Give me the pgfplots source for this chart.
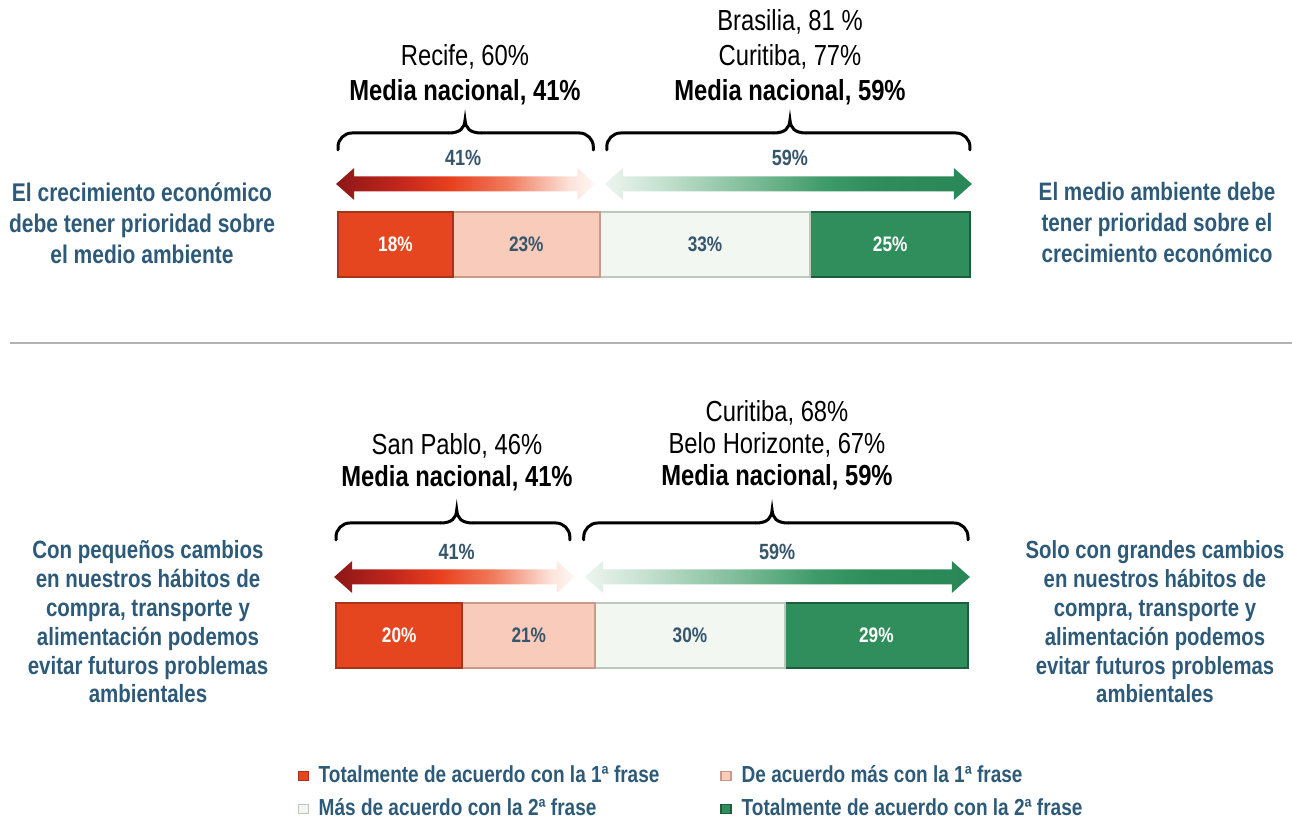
\documentclass[border=0pt]{standalone}
\usepackage{pgfplots}
\pgfplotsset{compat=1.18}
\usetikzlibrary{calc}
\usepackage{fontspec}
\setmainfont{Liberation Sans}[FakeStretch=0.82]
\definecolor{cRed}{HTML}{E5461F}
\definecolor{cRedD}{HTML}{A8321A}
\definecolor{cPink}{HTML}{F8CBBB}
\definecolor{cPinkD}{HTML}{C99A8A}
\definecolor{cWhite}{HTML}{F2F7F2}
\definecolor{cWhiteD}{HTML}{BCC8BE}
\definecolor{cGreen}{HTML}{2F8E5C}
\definecolor{cGreenD}{HTML}{1B5E3B}
\definecolor{txtBlue}{HTML}{2D5A78}
\definecolor{lblBlue}{HTML}{36566C}
\definecolor{ra}{HTML}{8C1717}
\definecolor{rb}{HTML}{C2261C}
\definecolor{rc}{HTML}{E8401E}
\definecolor{rd}{HTML}{F07A5C}
\definecolor{re}{HTML}{FBE3DA}
\definecolor{rf}{HTML}{FFF7F4}
\definecolor{ga}{HTML}{EDF5F0}
\definecolor{gb}{HTML}{C4E0CF}
\definecolor{gc}{HTML}{7DBC98}
\definecolor{gd}{HTML}{3E9A6A}
\definecolor{ge}{HTML}{2E8D5B}
\definecolor{gf}{HTML}{2A8757}
\pgfdeclarehorizontalshading{redarrow}{100bp}{color(0bp)=(ra); color(25bp)=(ra); color(37bp)=(rb); color(47bp)=(rc); color(58bp)=(rd); color(70bp)=(re); color(75bp)=(rf); color(100bp)=(rf)}
\pgfdeclarehorizontalshading{greenarrow}{100bp}{color(0bp)=(ga); color(25bp)=(ga); color(33bp)=(gb); color(45bp)=(gc); color(55bp)=(gd); color(62bp)=(ge); color(75bp)=(gf); color(100bp)=(gf)}
\pgfplotsset{
  barax/.style={hide axis, scale only axis, width=316pt, height=57pt,
    ymin=0, ymax=114, enlargelimits=false, clip=false,
    xbar stacked, bar width=32.5pt, anchor=origin},
  sqlegend/.style={legend image code/.code={\draw[##1,line width=0.6pt] (0pt,-2.2pt) rectangle (5pt,2.2pt);}}
}
\tikzset{
  bl/.style={text=white, font=\bfseries\fontsize{10.5}{12}\selectfont},
  bd/.style={text=lblBlue, font=\bfseries\fontsize{10.5}{12}\selectfont},
  al/.style={text=lblBlue, font=\bfseries\fontsize{11}{12}\selectfont},
  br/.style={line width=1.5pt, line cap=round}
}
% double-headed arrow between two tip coordinates (units: px)
\newcommand{\dblarrow}[3]{%
 \shade[shading=#1] (#2) -- ++(18,16) -- ++(0,-8.5) -- ($(#3)+(-18,7.5)$) -- ++(0,8.5) -- (#3) -- ++(-18,-16) -- ++(0,8.5) -- ($(#2)+(18,-7.5)$) -- ++(0,-8.5) -- cycle;}
\begin{document}
\begin{tikzpicture}[x=0.5pt,y=0.5pt]
\useasboundingbox (0,0) rectangle (1292,818);
% ---------------- top chart ----------------
\begin{axis}[barax, at={(169pt,270.5pt)}, xmin=0, xmax=99]
\addplot[fill=cRed, draw=cRedD, line width=1pt] coordinates {(18,32.5)};
\addplot[fill=cPink, draw=cPinkD, line width=1pt] coordinates {(23,32.5)};
\addplot[fill=cWhite, draw=cWhiteD, line width=1pt] coordinates {(33,32.5)};
\addplot[fill=cGreen, draw=cGreenD, line width=1pt] coordinates {(25,32.5)};
\coordinate (a1) at (axis cs:9,32.5);
\coordinate (a2) at (axis cs:29.5,32.5);
\coordinate (a3) at (axis cs:57.5,32.5);
\coordinate (a4) at (axis cs:86.5,32.5);
\coordinate (tl0) at (axis cs:-0.3,93);
\coordinate (tl1) at (axis cs:40.3,93);
\coordinate (tr0) at (axis cs:41.8,93);
\coordinate (tr1) at (axis cs:99.3,93);
\node[al] at (axis cs:19.6,119) {41\%};
\node[al] at (axis cs:70.8,119) {59\%};
% braces
\draw[br, rounded corners=7pt] (axis cs:0,127) -- (axis cs:0,144) -- (axis cs:17.3,144);
\draw[br] (axis cs:17.3,144) .. controls (axis cs:19.2,144) and (axis cs:19.8,149) .. (axis cs:19.9,157) .. controls (axis cs:20.0,149) and (axis cs:20.6,144) .. (axis cs:22.5,144);
\draw[br, rounded corners=7pt] (axis cs:22.5,144) -- (axis cs:40,144) -- (axis cs:40,127);
\draw[br, rounded corners=7pt] (axis cs:42.1,127) -- (axis cs:42.1,144) -- (axis cs:68.2,144);
\draw[br] (axis cs:68.2,144) .. controls (axis cs:70.1,144) and (axis cs:70.7,149) .. (axis cs:70.8,157) .. controls (axis cs:70.9,149) and (axis cs:71.5,144) .. (axis cs:73.4,144);
\draw[br, rounded corners=7pt] (axis cs:73.4,144) -- (axis cs:99,144) -- (axis cs:99,127);
\end{axis}
\node[bl] at (a1) {18\%};
\node[bd] at (a2) {23\%};
\node[bd] at (a3) {33\%};
\node[bl] at (a4) {25\%};
\dblarrow{redarrow}{tl0}{tl1}
\dblarrow{greenarrow}{tr0}{tr1}
% ---------------- bottom chart ----------------
\begin{axis}[barax, at={(168pt,75pt)}, xmin=0, xmax=100,
  legend columns=2, legend cell align=left,
  legend style={draw=none, fill=none, at={(-0.071,-0.785)}, anchor=north west,
    font=\bfseries\fontsize{11.6}{13}\selectfont, text=txtBlue, row sep=2.5pt,
    /tikz/every odd column/.append style={column sep=3pt},
    /tikz/every even column/.append style={column sep=28.5pt}}]
\addplot[fill=cRed, draw=cRedD, line width=1pt, sqlegend] coordinates {(20,32.5)};
\addlegendentry{Totalmente de acuerdo con la 1ª frase}
\addplot[fill=cPink, draw=cPinkD, line width=1pt, sqlegend] coordinates {(21,32.5)};
\addlegendentry{De acuerdo más con la 1ª frase}
\addplot[fill=cWhite, draw=cWhiteD, line width=1pt, sqlegend] coordinates {(30,32.5)};
\addlegendentry{Más de acuerdo con la 2ª frase}
\addplot[fill=cGreen, draw=cGreenD, line width=1pt, sqlegend] coordinates {(29,32.5)};
\addlegendentry{Totalmente de acuerdo con la 2ª frase}
\coordinate (b1) at (axis cs:10,32.5);
\coordinate (b2) at (axis cs:30.5,32.5);
\coordinate (b3) at (axis cs:56,32.5);
\coordinate (b4) at (axis cs:85.5,32.5);
\coordinate (bl0) at (axis cs:-0.3,91);
\coordinate (bl1) at (axis cs:37.8,91);
\coordinate (br0) at (axis cs:39.4,91);
\coordinate (br1) at (axis cs:100.3,91);
\node[al] at (axis cs:19.1,116) {41\%};
\node[al] at (axis cs:69.8,116) {59\%};
\draw[br, rounded corners=7pt] (axis cs:0,128) -- (axis cs:0,145) -- (axis cs:16.5,145);
\draw[br] (axis cs:16.5,145) .. controls (axis cs:18.4,145) and (axis cs:19.0,150) .. (axis cs:19.1,158) .. controls (axis cs:19.2,150) and (axis cs:19.8,145) .. (axis cs:21.7,145);
\draw[br, rounded corners=7pt] (axis cs:21.7,145) -- (axis cs:37,145) -- (axis cs:37,128);
\draw[br, rounded corners=7pt] (axis cs:39.2,128) -- (axis cs:39.2,145) -- (axis cs:66.4,145);
\draw[br] (axis cs:66.4,145) .. controls (axis cs:68.3,145) and (axis cs:68.9,150) .. (axis cs:69,158) .. controls (axis cs:69.1,150) and (axis cs:69.7,145) .. (axis cs:71.6,145);
\draw[br, rounded corners=7pt] (axis cs:71.6,145) -- (axis cs:100,145) -- (axis cs:100,128);
\end{axis}
\node[bl] at (b1) {20\%};
\node[bd] at (b2) {21\%};
\node[bd] at (b3) {30\%};
\node[bl] at (b4) {29\%};
\dblarrow{redarrow}{bl0}{bl1}
\dblarrow{greenarrow}{br0}{br1}
% ---------------- texts ----------------
\draw[color=black!30, line width=1pt] (10,475) -- (1292,475);
\node[align=center, font=\fontsize{14.5}{17.5}\selectfont] at (465,743) {Recife, 60\%\\\textbf{Media nacional, 41\%}};
\node[align=center, font=\fontsize{14.5}{17.5}\selectfont] at (790,761) {Brasilia, 81 \%\\Curitiba, 77\%\\\textbf{Media nacional, 59\%}};
\node[align=center, font=\fontsize{14.5}{16}\selectfont] at (457,356) {San Pablo, 46\%\\\textbf{Media nacional, 41\%}};
\node[align=center, font=\fontsize{14.5}{16}\selectfont] at (777,373) {Curitiba, 68\%\\Belo Horizonte, 67\%\\\textbf{Media nacional, 59\%}};
\node[align=center, text=txtBlue, font=\bfseries\fontsize{12.8}{15.5}\selectfont] at (142,595) {El crecimiento económico\\debe tener prioridad sobre\\el medio ambiente};
\node[align=center, text=txtBlue, font=\bfseries\fontsize{12.6}{15.5}\selectfont] at (1157,595) {El medio ambiente debe\\tener prioridad sobre el\\crecimiento económico};
\node[align=center, text=txtBlue, font=\bfseries\fontsize{12.5}{14.4}\selectfont] at (148,196) {Con pequeños cambios\\en nuestros hábitos de\\compra, transporte y\\alimentación podemos\\evitar futuros problemas\\ambientales};
\node[align=center, text=txtBlue, font=\bfseries\fontsize{12.4}{14.4}\selectfont] at (1155,196) {Solo con grandes cambios\\en nuestros hábitos de\\compra, transporte y\\alimentación podemos\\evitar futuros problemas\\ambientales};
\end{tikzpicture}
\end{document}
